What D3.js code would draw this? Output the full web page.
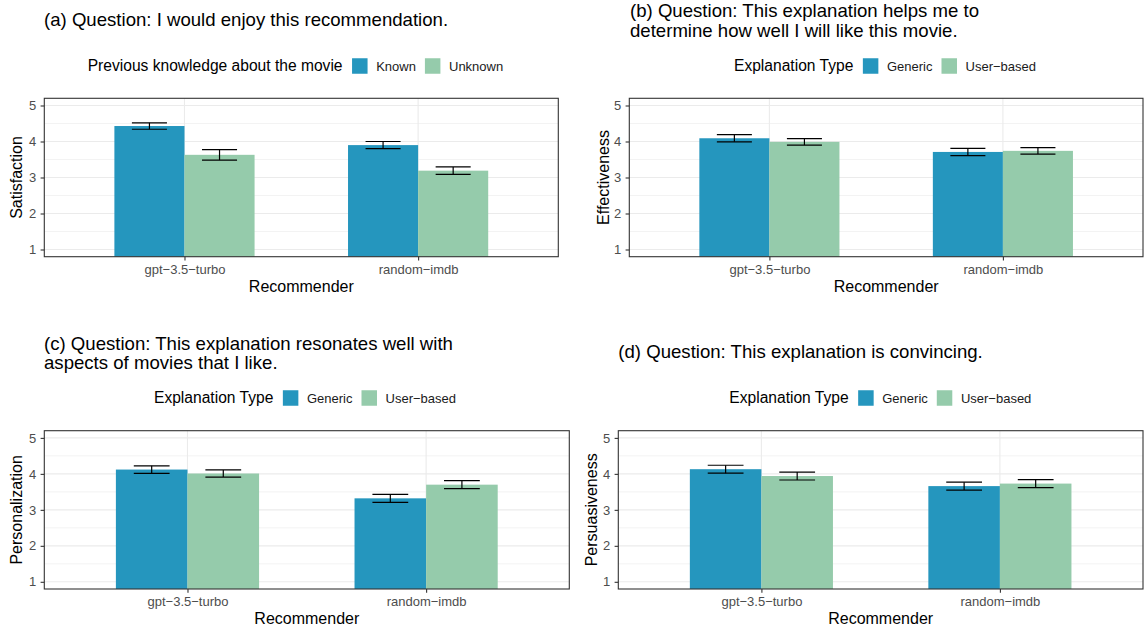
<!DOCTYPE html>
<html>
<head>
<meta charset="utf-8">
<script src="https://cdn.jsdelivr.net/npm/d3@7"></script>
<style>
  html, body { margin: 0; padding: 0; background: #ffffff; }
  svg { display: block; font-family: "Liberation Sans", Arial, Helvetica, sans-serif; }
</style>
</head>
<body>
<svg id="chart" width="1144" height="633"></svg>
<script>
// ---- data ----
const recommenders = ["gpt\u22123.5\u2212turbo", "random\u2212imdb"];
const knowledgeGroups = ["Known", "Unknown"];
const explanationGroups = ["Generic", "User\u2212based"];
const yTicks = [1, 2, 3, 4, 5];

// (a) Satisfaction by previous knowledge (mean, standard error)
const satisfactionKnown = [4.43, 3.90];
const satisfactionKnownErr = [0.09, 0.10];
const satisfactionUnknown = [3.63, 3.19];
const satisfactionUnknownErr = [0.145, 0.105];

// (b) Effectiveness by explanation type
const effectivenessGeneric = [4.09, 3.71];
const effectivenessGenericErr = [0.10, 0.10];
const effectivenessUser = [3.99, 3.74];
const effectivenessUserErr = [0.09, 0.09];

// (c) Personalization by explanation type
const personalizationGeneric = [4.12, 3.32];
const personalizationGenericErr = [0.105, 0.11];
const personalizationUser = [4.01, 3.70];
const personalizationUserErr = [0.10, 0.11];

// (d) Persuasiveness by explanation type
const persuasivenessGeneric = [4.13, 3.66];
const persuasivenessGenericErr = [0.11, 0.11];
const persuasivenessUser = [3.94, 3.73];
const persuasivenessUserErr = [0.11, 0.11];

// ---- panels ----
const panels = [
  {
    title: ["(a) Question: I would enjoy this recommendation."],
    legendTitle: "Previous knowledge about the movie",
    groups: knowledgeGroups,
    yLabel: "Satisfaction",
    means: [satisfactionKnown, satisfactionUnknown],
    errs: [satisfactionKnownErr, satisfactionUnknownErr],
    box: { x0: 44.3, x1: 558.3, y0: 98.3, y1: 256.7 },
    titleX: 44, titleY: [26], legendX: 87.7, legendY: 66, yTitleX: 16
  },
  {
    title: ["(b) Question: This explanation helps me to", "determine how well I will like this movie."],
    legendTitle: "Explanation Type",
    groups: explanationGroups,
    yLabel: "Effectiveness",
    means: [effectivenessGeneric, effectivenessUser],
    errs: [effectivenessGenericErr, effectivenessUserErr],
    box: { x0: 629.3, x1: 1143, y0: 98.3, y1: 256.7 },
    titleX: 630, titleY: [16.7, 36.7], legendX: 734, legendY: 66, yTitleX: 603.3
  },
  {
    title: ["(c) Question: This explanation resonates well with", "aspects of movies that I like."],
    legendTitle: "Explanation Type",
    groups: explanationGroups,
    yLabel: "Personalization",
    means: [personalizationGeneric, personalizationUser],
    errs: [personalizationGenericErr, personalizationUserErr],
    box: { x0: 44.3, x1: 569.3, y0: 430.7, y1: 589 },
    titleX: 44, titleY: [349.5, 369], legendX: 154, legendY: 398, yTitleX: 16.7
  },
  {
    title: ["(d) Question: This explanation is convincing."],
    legendTitle: "Explanation Type",
    groups: explanationGroups,
    yLabel: "Persuasiveness",
    means: [persuasivenessGeneric, persuasivenessUser],
    errs: [persuasivenessGenericErr, persuasivenessUserErr],
    box: { x0: 618.3, x1: 1143, y0: 430.7, y1: 589 },
    titleX: 618.3, titleY: [358.3], legendX: 729.3, legendY: 398, yTitleX: 591.7
  }
];

const fillColors = ["#2596be", "#95cbab"];
const svg = d3.select("#chart");

panels.forEach(p => {
  const b = p.box;
  const g = svg.append("g");

  const x = d3.scalePoint().domain(recommenders).range([b.x0, b.x1]).padding(0.6);
  const step = x.step();
  const dodge = d3.scaleBand().domain(p.groups).range([-0.3 * step, 0.3 * step]);
  const y = d3.scaleLinear().domain([0.8, 5.2]).range([b.y1, b.y0]);
  const color = d3.scaleOrdinal().domain(p.groups).range(fillColors);

  // grid: minor then major
  const minor = d3.range(1.5, 5, 1);
  g.selectAll(".minor").data(minor).join("line")
    .attr("x1", b.x0).attr("x2", b.x1)
    .attr("y1", d => y(d)).attr("y2", d => y(d))
    .attr("stroke", "#ebebeb").attr("stroke-width", 0.6);
  g.selectAll(".major").data(yTicks).join("line")
    .attr("x1", b.x0).attr("x2", b.x1)
    .attr("y1", d => y(d)).attr("y2", d => y(d))
    .attr("stroke", "#ebebeb").attr("stroke-width", 1.1);
  g.selectAll(".vmajor").data(recommenders).join("line")
    .attr("x1", d => x(d)).attr("x2", d => x(d))
    .attr("y1", b.y0).attr("y2", b.y1)
    .attr("stroke", "#ebebeb").attr("stroke-width", 1.1);

  // bars + error bars
  const rows = [];
  p.groups.forEach((grp, gi) => {
    recommenders.forEach((rec, ri) => {
      rows.push({ grp, rec, mean: p.means[gi][ri], err: p.errs[gi][ri] });
    });
  });
  g.selectAll(".bar").data(rows).join("rect")
    .attr("x", d => x(d.rec) + dodge(d.grp))
    .attr("width", dodge.bandwidth())
    .attr("y", d => y(d.mean))
    .attr("height", d => y(0.8) - y(d.mean))
    .attr("fill", d => color(d.grp));

  const capHalf = dodge.bandwidth() / 4;
  const eb = g.selectAll(".eb").data(rows).join("g")
    .attr("stroke", "#000").attr("stroke-width", 1.2).attr("fill", "none");
  const cx = d => x(d.rec) + dodge(d.grp) + dodge.bandwidth() / 2;
  eb.append("line").attr("x1", cx).attr("x2", cx)
    .attr("y1", d => y(d.mean - d.err)).attr("y2", d => y(d.mean + d.err));
  eb.append("line").attr("x1", d => cx(d) - capHalf).attr("x2", d => cx(d) + capHalf)
    .attr("y1", d => y(d.mean + d.err)).attr("y2", d => y(d.mean + d.err));
  eb.append("line").attr("x1", d => cx(d) - capHalf).attr("x2", d => cx(d) + capHalf)
    .attr("y1", d => y(d.mean - d.err)).attr("y2", d => y(d.mean - d.err));

  // panel border
  g.append("rect")
    .attr("x", b.x0).attr("y", b.y0)
    .attr("width", b.x1 - b.x0).attr("height", b.y1 - b.y0)
    .attr("fill", "none").attr("stroke", "#333333").attr("stroke-width", 1.1);

  // axes
  const yAxis = d3.axisLeft(y).tickValues(yTicks).tickSize(3.7).tickPadding(4.5).tickFormat(d3.format("d"));
  const ya = g.append("g").attr("transform", `translate(${b.x0},0)`).call(yAxis);
  ya.select(".domain").remove();
  ya.selectAll(".tick line").attr("stroke", "#333333").attr("stroke-width", 1.1);
  ya.selectAll(".tick text").attr("fill", "#4d4d4d").attr("font-size", 13)
    .attr("font-family", "Liberation Sans, Arial, sans-serif");

  const xAxis = d3.axisBottom(x).tickSize(3.7).tickPadding(4);
  const xa = g.append("g").attr("transform", `translate(0,${b.y1})`).call(xAxis);
  xa.select(".domain").remove();
  xa.selectAll(".tick line").attr("stroke", "#333333").attr("stroke-width", 1.1);
  xa.selectAll(".tick text").attr("fill", "#4d4d4d").attr("font-size", 13)
    .attr("font-family", "Liberation Sans, Arial, sans-serif")
    .attr("dy", null).attr("y", 17.3);

  // axis titles
  g.append("text")
    .attr("x", (b.x0 + b.x1) / 2).attr("y", b.y1 + 34.8)
    .attr("text-anchor", "middle").attr("font-size", 16).attr("fill", "#000")
    .text("Recommender");
  g.append("text")
    .attr("transform", `translate(${p.yTitleX},${(b.y0 + b.y1) / 2}) rotate(-90)`)
    .attr("text-anchor", "middle").attr("dy", "0.36em")
    .attr("font-size", 16).attr("fill", "#000")
    .text(p.yLabel);

  // panel title
  p.title.forEach((line, i) => {
    g.append("text")
      .attr("x", p.titleX).attr("y", p.titleY[i])
      .attr("font-size", 18.6).attr("fill", "#000")
      .text(line);
  });

  // legend
  const lg = g.append("g");
  const lt = lg.append("text")
    .attr("x", p.legendX).attr("y", p.legendY).attr("dy", "0.35em")
    .attr("font-size", 15.6).attr("fill", "#000")
    .text(p.legendTitle);
  let cursor = p.legendX + lt.node().getComputedTextLength() + 9.5;
  const keySize = 15.5;
  p.groups.forEach(grp => {
    lg.append("rect")
      .attr("x", cursor).attr("y", p.legendY - keySize / 2)
      .attr("width", keySize).attr("height", keySize)
      .attr("fill", color(grp));
    cursor += keySize + 8.6;
    const t = lg.append("text")
      .attr("x", cursor).attr("y", p.legendY).attr("dy", "0.35em")
      .attr("font-size", 13).attr("fill", "#1a1a1a")
      .text(grp);
    cursor += t.node().getComputedTextLength() + 9;
  });
});
</script>
</body>
</html>
